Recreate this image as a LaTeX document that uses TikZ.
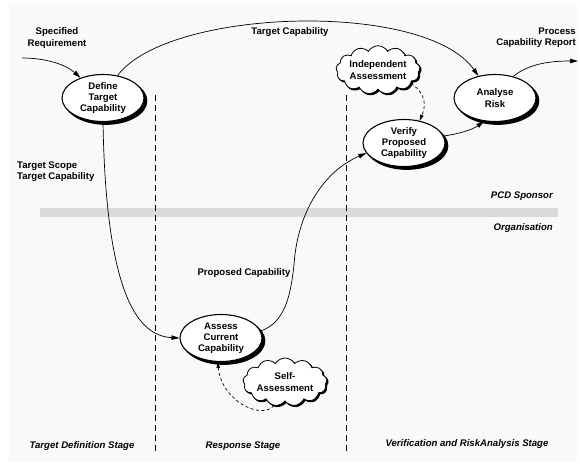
\documentclass[tikz,border=0pt]{standalone}
\usepackage{fontspec}
\setmainfont{Liberation Sans}
\usetikzlibrary{arrows.meta,shapes.geometric,shapes.symbols,shadows}
\definecolor{bgc}{RGB}{249,249,249}
\definecolor{bandc}{RGB}{218,218,218}
\tikzset{
  every node/.style={font=\fontsize{9.6}{11.2}\selectfont\bfseries},
  proc/.style={ellipse, draw=black, line width=1.1pt, fill=white, minimum width=82pt, minimum height=47pt, inner sep=0pt, align=center,
    copy shadow={shadow xshift=2.8pt, shadow yshift=-2.8pt, fill=black, draw=black}},
  cloudbox/.style={cloud, cloud puffs=13, cloud puff arc=120, aspect=2.1, draw=black, line width=0.8pt, fill=white, minimum width=84pt, minimum height=42pt, inner sep=0pt, align=center,
    copy shadow={shadow xshift=1.3pt, shadow yshift=-1.3pt, fill=black, draw=black}},
  lbl/.style={align=center, inner sep=0pt},
  ilbl/.style={font=\fontsize{9.6}{11.2}\selectfont\bfseries\itshape, inner sep=0pt},
  flow/.style={line width=0.7pt, -{Triangle[length=8pt,width=4.5pt]}},
  dflow/.style={line width=0.7pt, dash pattern=on 3pt off 2.5pt, -{Triangle[length=6pt,width=3.5pt]}},
  lane/.style={line width=0.8pt, dash pattern=on 6pt off 4pt}
}
\begin{document}
\begin{tikzpicture}[x=1pt,y=-1pt]
\useasboundingbox (0,0) rectangle (580,466);
\fill[bgc] (9,3) rectangle (577,462);
\fill[bandc] (40,208) rectangle (558,217);
\draw[lane] (155,95) -- (155,453);
\draw[lane] (346,95) -- (346,453);

\node[proc] (def) at (103,98) {Define\\Target\\Capability};
\node[proc] (ana) at (495,98) {Analyse\\Risk};
\node[proc] (ver) at (404,143) {Verify\\Proposed\\Capability};
\node[proc] (ass) at (221,338) {Assess\\Current\\Capability};
\node[cloudbox] (ind) at (378,70) {Independent\\Assessment};
\node[cloudbox] (slf) at (285,382) {Self-\\Assessment};

\node[lbl] (spec) at (57,38) {Specified\\Requirement};
\node[lbl] (tcap) at (290,32) {Target Capability};
\node[lbl, anchor=east, align=right] (pcr) at (576,38) {Process\\Capability Report};
\node[lbl, anchor=west, align=left] (tsc) at (17,172) {Target Scope\\Target Capability};
\node[lbl] (prop) at (244,273) {Proposed Capability};
\node[ilbl, anchor=east] (pcd) at (553,196) {PCD Sponsor};
\node[ilbl, anchor=east] (org) at (553,228) {Organisation};
\node[ilbl] (st1) at (82,446) {Target Definition Stage};
\node[ilbl] (st2) at (243,446) {Response Stage};
\node[ilbl] (st3) at (467,444) {Verification and RiskAnalysis Stage};

\coordinate (sin) at (22,58);
\coordinate (pout) at (578,61);

\draw[flow] (sin) .. controls (45,58) and (65,64) .. (def.138);
\draw[flow] (def.57) .. controls (168,8) and (425,0) .. (ana.127);
\draw[flow] (ana.50) .. controls (530,63) and (552,61) .. (pout);
\draw[flow] (def.270) .. controls (106,300) and (140,336) .. (ass.180);
\draw[flow] (ass.10) .. controls (287,322) and (291,290) .. (294,265) .. controls (297,215) and (322,172) .. (ver.195);
\draw[flow] (ver.10) .. controls (458,134) and (472,130) .. (ana.245);
\draw[dflow] (ind.-22) .. controls (428,95) and (425,108) .. (ver.55);
\draw[dflow] (slf.245) .. controls (262,420) and (222,402) .. (ass.262);
\end{tikzpicture}
\end{document}
